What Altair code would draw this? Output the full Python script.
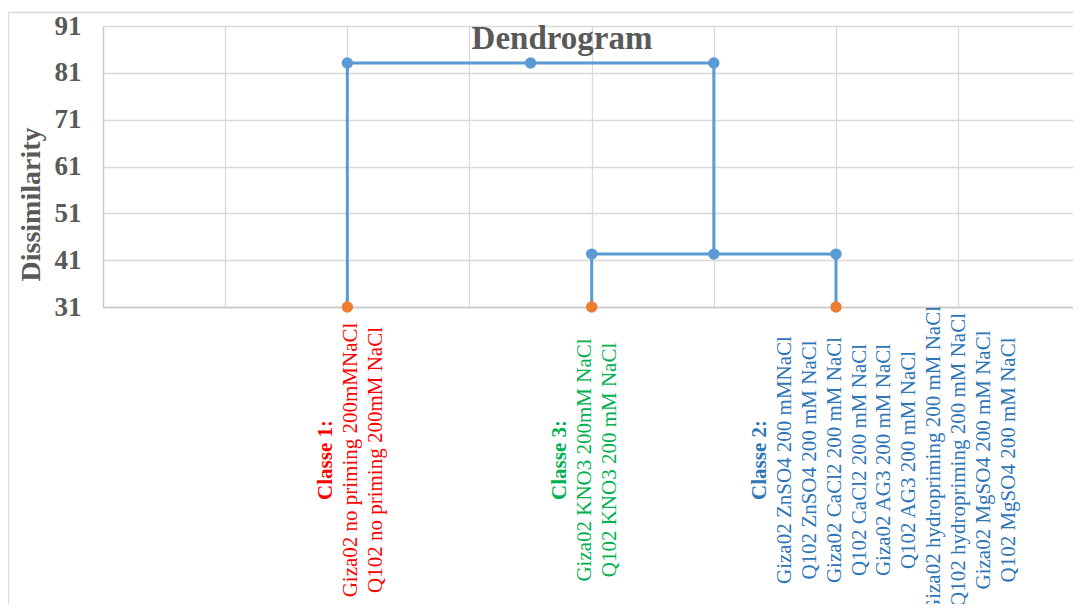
import altair as alt
import pandas as pd

# ---- data ----
# dendrogram link paths (x position, dissimilarity)
path1_x = [2, 2, 3.5, 5, 5, 4, 4]
path1_y = [31, 83.1, 83.1, 83.1, 42.3, 42.3, 31]
path2_x = [5, 6, 6]
path2_y = [42.3, 42.3, 31]

# blue node markers
node_x = [2, 3.5, 5, 4, 5, 6]
node_y = [83.1, 83.1, 83.1, 42.3, 42.3, 42.3]

# orange leaf markers
leaf_x = [2, 4, 6]
leaf_y = [31, 31, 31]

y_ticks = [31, 41, 51, 61, 71, 81, 91]
x_grid = [0, 1, 2, 3, 4, 5, 6, 7]

# class labels
class_names = ["Classe 1:", "Classe 3:", "Classe 2:"]
class_colors = ["#FF0000", "#00B050", "#2E75B6"]
class_center = [2.03, 3.945, 6.397]
class_members = [
    ["Giza02 no priming 200mMNaCl", "Q102 no priming 200mM NaCl"],
    ["Giza02 KNO3 200mM NaCl", "Q102 KNO3 200 mM NaCl"],
    ["Giza02 ZnSO4 200 mMNaCl", "Q102 ZnSO4 200 mM NaCl", "Giza02 CaCl2 200 mM NaCl",
     "Q102 CaCl2 200 mM NaCl", "Giza02 AG3 200 mM NaCl", "Q102 AG3 200 mM NaCl",
     "Giza02  hydropriming 200 mM NaCl", "Q102 hydropriming 200 mM NaCl",
     "Giza02 MgSO4 200 mM NaCl", "Q102 MgSO4 200 mM NaCl"],
]
line_step = 0.2046  # one text line, in x units

# ---- build tables ----
paths = pd.DataFrame(
    [{"x": x, "y": y, "seg": "a", "o": i} for i, (x, y) in enumerate(zip(path1_x, path1_y))]
    + [{"x": x, "y": y, "seg": "b", "o": i} for i, (x, y) in enumerate(zip(path2_x, path2_y))]
)
nodes = pd.DataFrame({"x": node_x, "y": node_y})
leaves = pd.DataFrame({"x": leaf_x, "y": leaf_y})

rows = []
for name, col, cx, members in zip(class_names, class_colors, class_center, class_members):
    lines = [name] + members
    n = len(lines)
    for i, t in enumerate(lines):
        rows.append({"x": cx + (i - (n - 1) / 2) * line_step, "text": t,
                     "color": col, "bold": i == 0})
labels = pd.DataFrame(rows)

FONT = "Liberation Serif"
GRID = "#d9d9d9"

xscale = alt.Scale(domain=[0, 7.94], nice=False, zero=False)
yscale = alt.Scale(domain=[31, 91], nice=False, zero=False)

xaxis = alt.Axis(values=x_grid, labels=False, ticks=False, title=None, grid=True,
                 gridColor=GRID, gridWidth=1.3, domainColor="#c8c8c8", domainWidth=1.3)
yaxis = alt.Axis(values=y_ticks, ticks=False, grid=True, gridColor=GRID, gridWidth=1.3,
                 domainColor="#c8c8c8", domainWidth=1.3,
                 labelFont=FONT, labelFontSize=27, labelFontWeight="bold", labelColor="#595959",
                 labelPadding=22,
                 title="Dissimilarity", titleFont=FONT, titleFontSize=28, titleFontWeight="bold",
                 titleColor="#595959", titleAngle=270, titleAlign="center", titleBaseline="middle",
                 titleX=-72, titleY=178)

border = alt.Chart(alt.Data(values=[{}])).mark_rect(
    fillOpacity=0, stroke=GRID, strokeWidth=1.3
).encode(x=alt.value(-94.5), x2=alt.value(1100), y=alt.value(-13.5), y2=alt.value(700))

links = alt.Chart(paths).mark_line(color="#5B9BD5", strokeWidth=3, clip=False).encode(
    x=alt.X("x:Q", scale=xscale, axis=xaxis),
    y=alt.Y("y:Q", scale=yscale, axis=yaxis),
    detail="seg:N",
    order="o:Q",
)

node_pts = alt.Chart(nodes).mark_circle(color="#5B9BD5", size=130, opacity=1).encode(
    x=alt.X("x:Q", scale=xscale), y=alt.Y("y:Q", scale=yscale)
)
leaf_pts = alt.Chart(leaves).mark_circle(color="#ED7D31", size=130, opacity=1).encode(
    x=alt.X("x:Q", scale=xscale), y=alt.Y("y:Q", scale=yscale)
)

reg_text = alt.Chart(labels).transform_filter("!datum.bold").mark_text(
    angle=270, align="center", baseline="middle", font=FONT, fontSize=21
).encode(
    x=alt.X("x:Q", scale=xscale),
    y=alt.value(434),
    text="text:N",
    color=alt.Color("color:N", scale=None),
)
bold_text = alt.Chart(labels).transform_filter("datum.bold").mark_text(
    angle=270, align="center", baseline="middle", font=FONT, fontSize=21, fontWeight="bold"
).encode(
    x=alt.X("x:Q", scale=xscale),
    y=alt.value(434),
    text="text:N",
    color=alt.Color("color:N", scale=None),
)

title = alt.Chart(alt.Data(values=[{"t": "Dendrogram"}])).mark_text(
    font=FONT, fontSize=33, fontWeight="bold", color="#595959",
    align="center", baseline="alphabetic"
).encode(x=alt.value(459), y=alt.value(23), text="t:N")

chart = alt.layer(border, links, node_pts, leaf_pts, reg_text, bold_text, title).properties(
    width=970, height=281,
    autosize=alt.AutoSizeParams(type="none"),
    padding={"left": 95, "top": 18, "right": 0, "bottom": 297},
).configure_view(stroke=None).configure(background="white")

chart.save("out.html", embed_options={"renderer": "svg", "actions": False})
